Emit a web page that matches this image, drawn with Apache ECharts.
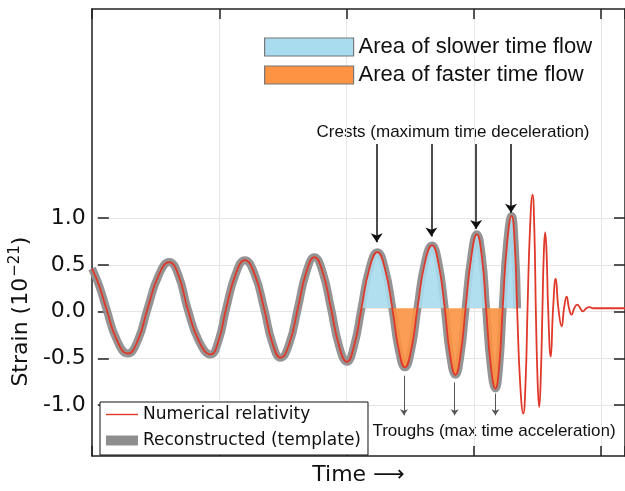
<!DOCTYPE html>
<html><head><meta charset="utf-8">
<script src="https://cdn.jsdelivr.net/npm/echarts@6/dist/echarts.min.js"></script>
<style>html,body{margin:0;padding:0;background:#fff}#c{width:625px;height:491px}</style>
</head><body><div id="c"></div>
<script>
// ---- data (time in arbitrary units, one grid step = 128) ----
const nrTime = [0,7,14.3,25,36,46,56,67,77.7,87,96,107.5,119.3,127,135,144.5,153.7,163.5,173,181.5,189.7,198.5,207,215.5,223.7,232,240.3,248.5,256.3,263.5,271,279,287,294.5,302,308.5,314.7,321,327.3,334.5,342,348.5,354.7,360,365.5,370.5,375.7,381.5,387,392,396.3,401,405.7,409.5,413,417.5,422,425,427.5,430.5,433.7,436,438,440.5,443,444.8,446.3,448,449.7,451.3,453,454.3,455.7,457.2,458.7,461.3,463.7,466.3,469,472.3,474.7,477.3,479.7,482.3,485,488,491,493.7,497,500.3,504,536];
const nrStrain = [0.43,0.25,0,-0.345,-0.49,-0.35,0,0.355,0.50,0.355,0,-0.355,-0.50,-0.36,0,0.37,0.52,0.37,0,-0.38,-0.535,-0.38,0,0.39,0.553,0.39,0,-0.41,-0.58,-0.41,0,0.43,0.607,0.43,0,-0.45,-0.64,-0.45,0,0.48,0.68,0.48,0,-0.50,-0.72,-0.51,0,0.56,0.80,0.56,0,-0.62,-0.87,-0.62,0,0.71,1.0,0.71,0,-0.8,-1.14,-0.8,0,0.87,1.23,0.87,0,-0.75,-1.07,-0.75,0,0.58,0.82,0.58,0,-0.525,0,0.32,0,-0.196,0,0.125,0,-0.07,0,0.04,0,-0.035,0,0.012,0,0];
const templateEnd = 427.5;       // template (reconstructed) ends before merger
const fillStart = 271, fillEnd = 427.5;
const yTickValues = [-1.0, -0.5, 0.0, 0.5, 1.0];
const crestTime = [286.3, 341.3, 386.3, 421.3];
const crestTip = [0.714, 0.778, 0.857, 1.035];
const crestTop = 1.777;
const troughTime = [313.7, 364.7, 405.7];
const troughStart = [-0.731, -0.803, -0.924];
const troughTip = -1.16;

const nrData = nrTime.map((t, i) => [t, nrStrain[i]]);
const templateData = nrData.filter(p => p[0] <= templateEnd);
const fillData = nrData.filter(p => p[0] >= fillStart && p[0] <= fillEnd);

const AX = '#222';
const GRIDC = '#e6e6e6';
const SANS = 'DejaVu Sans';
const ARIAL = 'Liberation Sans';

const crestLines = crestTime.map((t, i) => [
  {coord: [t, crestTop], symbol: 'none'},
  {coord: [t, crestTip[i]], symbol: 'arrow'}
]);
const troughLines = troughTime.map((t, i) => [
  {coord: [t, troughStart[i]], symbol: 'none', lineStyle: {color: '#555', width: 1}},
  {coord: [t, troughTip], symbol: 'arrow', symbolSize: 6}
]);

const xCommon = {type: 'value', min: 0, max: 536, interval: 128, gridIndex: 0,
  axisLine: {show: true, onZero: false, lineStyle: {color: AX, width: 1.5}},
  axisTick: {show: true, inside: true, length: 10, lineStyle: {color: AX, width: 1.5}},
  axisLabel: {show: false}};

const chart = echarts.init(document.getElementById('c'), null, {renderer: 'canvas'});
chart.setOption({
  animation: false,
  grid: [
    {left: 92, right: -3, top: 9, bottom: 30},
    {left: 92, right: -3, top: 218.2, bottom: 86}
  ],
  xAxis: [
    Object.assign({}, xCommon, {position: 'bottom',
     splitLine: {show: true, lineStyle: {color: GRIDC, width: 1}},
     name: 'Time \u27F6', nameLocation: 'middle', nameGap: 8,
     nameTextStyle: {fontFamily: SANS, fontSize: 22, color: '#111', verticalAlign: 'top'}}),
    Object.assign({}, xCommon, {position: 'top', splitLine: {show: false}}),
    {gridIndex: 1, type: 'value', min: 0, max: 536, show: false}
  ],
  yAxis: [
    {gridIndex: 0, type: 'value', min: -1.6, max: 3.24, position: 'left',
     axisLine: {show: true, onZero: false, lineStyle: {color: AX, width: 1.5}},
     axisTick: {show: false}, axisLabel: {show: false}, splitLine: {show: false}},
    {gridIndex: 0, type: 'value', min: -1.6, max: 3.24, position: 'right',
     axisLine: {show: true, onZero: false, lineStyle: {color: AX, width: 1.5}},
     axisTick: {show: false}, axisLabel: {show: false}, splitLine: {show: false}},
    {gridIndex: 1, type: 'value', min: yTickValues[0], max: yTickValues[yTickValues.length - 1], interval: 0.5, position: 'left',
     axisLine: {show: false, onZero: false},
     axisTick: {show: true, inside: true, length: 11, lineStyle: {color: AX, width: 1.5}},
     axisLabel: {show: true, margin: 12, fontFamily: SANS, fontSize: 22, color: '#111',
                 formatter: v => v.toFixed(1)},
     splitLine: {show: true, lineStyle: {color: GRIDC, width: 1}},
     name: '{a|Strain (10}{s|\u221221}{a|)}', nameLocation: 'middle', nameGap: 52,
     nameTextStyle: {fontFamily: SANS, fontSize: 22, color: '#111',
       rich: {a: {fontFamily: SANS, fontSize: 22, color: '#111'},
              s: {fontFamily: SANS, fontSize: 15, color: '#111', padding: [0, 0, 11, 1]}}}},
    {gridIndex: 1, type: 'value', min: yTickValues[0], max: yTickValues[yTickValues.length - 1], interval: 0.5, position: 'right',
     axisLine: {show: false, onZero: false},
     axisTick: {show: true, inside: true, length: 11, lineStyle: {color: AX, width: 1.5}},
     axisLabel: {show: false}, splitLine: {show: false}}
  ],
  visualMap: [
    {type: 'piecewise', show: false, seriesIndex: 0, dimension: 1,
     pieces: [{gt: 0, lte: 5, color: '#a9dcee'}], outOfRange: {color: 'rgba(0,0,0,0)'}},
    {type: 'piecewise', show: false, seriesIndex: 1, dimension: 1,
     pieces: [{gte: -5, lt: 0, color: '#fd9343'}], outOfRange: {color: 'rgba(0,0,0,0)'}}
  ],
  legend: [
    {orient: 'vertical', left: 264, top: 36, padding: 0, itemWidth: 89, itemHeight: 18, itemGap: 6,
     selectedMode: false,
     textStyle: {fontFamily: ARIAL, fontSize: 22, color: '#111'},
     data: [
       {name: 'Area of slower time flow', icon: 'rect', itemStyle: {color: '#a9dcee', borderColor: '#777', borderWidth: 1.2}},
       {name: 'Area of faster time flow', icon: 'rect', itemStyle: {color: '#fd9343', borderColor: '#777', borderWidth: 1.2}}
     ]},
    {orient: 'vertical', left: 100, top: 402, padding: [4, 7, 6, 6], itemWidth: 32, itemHeight: 10, itemGap: 9,
     selectedMode: false, borderColor: '#111', borderWidth: 1, backgroundColor: '#fff',
     textStyle: {fontFamily: SANS, fontSize: 17, color: '#111'},
     data: [
       {name: 'Numerical relativity', icon: 'path://M0,0M32,10M0,4.3L32,4.3L32,5.7L0,5.7Z', itemStyle: {color: '#e0392a'}},
       {name: 'Reconstructed (template)', icon: 'rect', itemStyle: {color: '#8e8e8e'}}
     ]}
  ],
  graphic: [
    {type: 'text', x: 453, y: 132, style: {text: 'Crests (maximum time deceleration)', fontFamily: ARIAL, fontSize: 17, fill: '#111', align: 'center', verticalAlign: 'middle'}},
    {type: 'text', x: 494, y: 431, style: {text: 'Troughs (max time acceleration)', fontFamily: ARIAL, fontSize: 17, fill: '#111', align: 'center', verticalAlign: 'middle'}}
  ],
  series: [
    {name: 'Area of slower time flow', type: 'line', xAxisIndex: 0, yAxisIndex: 0, data: fillData,
     smooth: true, symbol: 'none', lineStyle: {width: 0, opacity: 0}, areaStyle: {opacity: 0.9}, z: 3, silent: true},
    {name: 'Area of faster time flow', type: 'line', xAxisIndex: 0, yAxisIndex: 0, data: fillData,
     smooth: true, symbol: 'none', lineStyle: {width: 0, opacity: 0}, areaStyle: {opacity: 0.9}, z: 3, silent: true},
    {name: 'Reconstructed (template)', type: 'line', xAxisIndex: 0, yAxisIndex: 0, data: templateData,
     smooth: true, symbol: 'none', lineStyle: {color: '#8e8e8e', width: 8, opacity: 0.95, cap: 'butt'}, itemStyle: {color: '#8e8e8e'}, z: 2, silent: true},
    {name: 'Numerical relativity', type: 'line', xAxisIndex: 0, yAxisIndex: 0, data: nrData,
     smooth: true, symbol: 'none', lineStyle: {color: '#e0392a', width: 1.8}, itemStyle: {color: '#e0392a'}, z: 4, silent: true,
     markLine: {silent: true, symbol: ['none', 'arrow'], symbolSize: 9, animation: false,
       label: {show: false},
       lineStyle: {color: '#111', width: 1.5, type: 'solid'},
       data: crestLines.concat(troughLines)}}
  ]
});
</script></body></html>
